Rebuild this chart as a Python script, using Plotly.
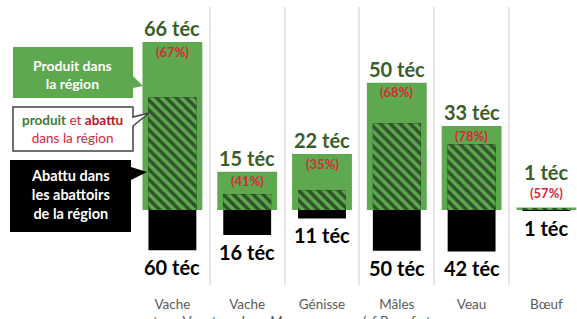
import plotly.graph_objects as go

categories = ["Vache<br>type V", "Vache<br>type L ou M", "Génisse", "Mâles<br>(sf Boeuf et", "Veau", "Bœuf"]
produit = [66, 15, 22, 50, 33, 1]          # téc produites dans la région
abattu = [60, 16, 11, 50, 42, 1]           # téc abattues dans la région
part_pct = [67, 41, 35, 68, 78, 57]        # % produit et abattu dans la région

W, H = 577, 319
GREEN = "#5EA84F"
DKGREEN = "#3A5E2A"
RED = "#D62839"
GRAY = "#595959"
FONT = "Lato"

x = list(range(len(categories)))
overlap = [p * q / 100 for p, q in zip(produit, part_pct)]
black_base = [o - a for o, a in zip(overlap, abattu)]

fig = go.Figure()
fig.add_bar(x=x, y=produit, base=0, width=0.80, marker=dict(color=GREEN, line=dict(width=0)),
            hoverinfo="skip")
fig.add_bar(x=x, y=abattu, base=black_base, width=0.64, marker=dict(color="black", line=dict(width=0)),
            hoverinfo="skip")
fig.add_bar(x=x, y=overlap, base=0, width=0.64,
            marker=dict(color=GREEN, line=dict(width=0),
                        pattern=dict(shape="\\", fgcolor="black", bgcolor=GREEN, size=7, solidity=0.5)),
            hoverinfo="skip")

# axis geometry (pixels)
left_px, top_px, bottom_px, base_px = 135, 7, 285, 210
ppu = 2.545
y_top = (base_px - top_px) / ppu
y_bot = -(bottom_px - base_px) / ppu
ncat_vis = (W - left_px) / 74.8

annotations = []
for i, (p, q, a, bb) in enumerate(zip(produit, part_pct, abattu, black_base)):
    small = p * ppu < 20
    annotations.append(dict(x=i, y=p, xref="x", yref="y", text=f"<b>{p} téc</b>", showarrow=False,
                            yshift=35 if small else 14, font=dict(family=FONT, size=20, color=DKGREEN)))
    annotations.append(dict(x=i, y=p, xref="x", yref="y", text=f"<b>({q}%)</b>", showarrow=False,
                            yshift=14 if small else -9.5, font=dict(family=FONT, size=13, color=RED)))
    annotations.append(dict(x=i, y=bb, xref="x", yref="y", text=f"<b>{a} téc</b>", showarrow=False,
                            yshift=-17, font=dict(family=FONT, size=20, color="black")))


def P(px, py):
    return px / W, (H - py) / H


def path(points):
    s = ""
    for k, (px, py) in enumerate(points):
        xx, yy = P(px, py)
        s += ("M" if k == 0 else "L") + f"{xx:.5f},{yy:.5f} "
    return s + "Z"


shapes = [
    dict(type="path", xref="paper", yref="paper", layer="above",
         path=path([(13, 47), (133, 47), (133, 76), (143, 86), (133, 88), (133, 98), (13, 98)]),
         fillcolor=GREEN, line=dict(width=0)),
    dict(type="path", xref="paper", yref="paper", layer="above",
         path=path([(13, 107), (133, 107), (133, 117), (149, 113), (133, 126), (133, 151), (13, 151)]),
         fillcolor="white", line=dict(color="#404040", width=1.5)),
    dict(type="path", xref="paper", yref="paper", layer="above",
         path=path([(10, 160), (131, 160), (131, 167), (147, 172), (131, 180), (131, 232), (10, 232)]),
         fillcolor="black", line=dict(width=0)),
]

bx, by = P(73, 74)
annotations.append(dict(x=bx, y=by, xref="paper", yref="paper", showarrow=False,
                        xanchor="center", yanchor="middle",
                        text="<b>Produit dans<br>la région</b>",
                        font=dict(family=FONT, size=14, color="white")))
bx, by = P(73, 129)
annotations.append(dict(x=bx, y=by, xref="paper", yref="paper", showarrow=False,
                        xanchor="center", yanchor="middle",
                        text=f"<b><span style='color:#3F7A33'>produit</span></b> <span style='color:{RED}'>et</span> "
                             f"<b><span style='color:#C0142A'>abattu</span></b><br><span style='color:{RED}'>dans la région</span>",
                        font=dict(family=FONT, size=13.5, color=RED)))
bx, by = P(70, 194)
annotations.append(dict(x=bx, y=by, xref="paper", yref="paper", showarrow=False,
                        xanchor="center", yanchor="middle",
                        text="<b>Abattu dans<br>les abattoirs<br>de la région</b>",
                        font=dict(family=FONT, size=14.5, color="white")))

fig.update_layout(
    width=W, height=H, margin=dict(l=0, r=0, t=0, b=0, autoexpand=False),
    paper_bgcolor="white", plot_bgcolor="white",
    barmode="overlay", showlegend=False,
    annotations=annotations, shapes=shapes,
    xaxis=dict(domain=[left_px / W, 1], range=[-0.5, -0.5 + ncat_vis], automargin=False,
               tickvals=x, ticktext=categories, showgrid=False, zeroline=False, showline=False,
               ticks="", ticklabelstandoff=9,
               tickfont=dict(family=FONT, size=13.5, color=GRAY),
               minor=dict(tickvals=[i - 0.5 for i in range(len(categories) + 1)], showgrid=True,
                          gridcolor="#e6e6e6", gridwidth=1.5, ticks="")),
    yaxis=dict(domain=[(H - bottom_px) / H, (H - top_px) / H], range=[y_bot, y_top], automargin=False,
               showgrid=False, zeroline=False, showticklabels=False, showline=False),
)

fig.write_html("out.html", config={"displayModeBar": False},
               post_script="document.body.style.margin='0';document.body.style.overflow='hidden';")
